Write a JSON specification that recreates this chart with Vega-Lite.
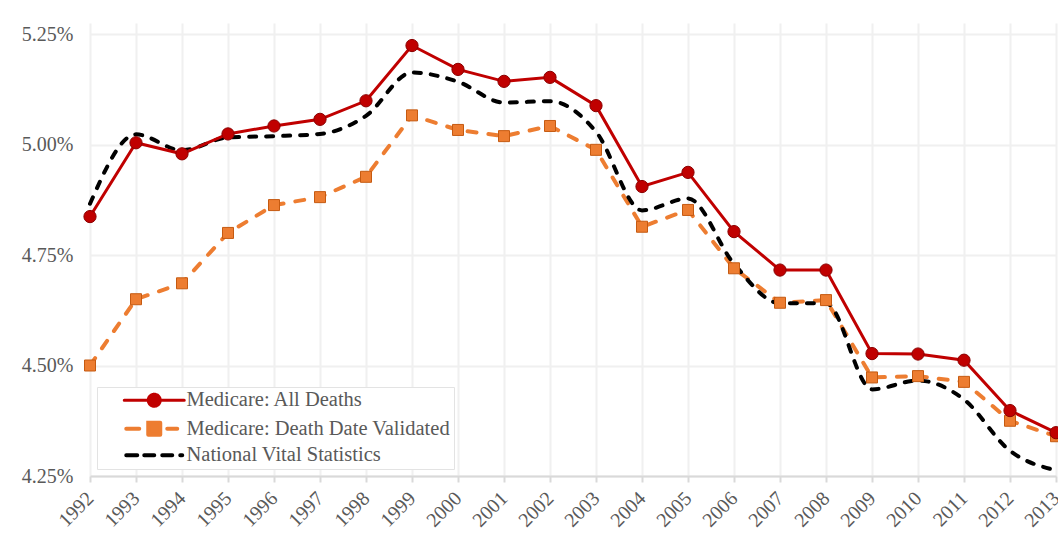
{
  "$schema": "https://vega.github.io/schema/vega-lite/v6.json",
  "width": 966,
  "height": 453,
  "autosize": "none",
  "padding": {"left": 90, "top": 23, "right": 2, "bottom": 63},
  "background": "white",
  "config": {"view": {"stroke": null}, "font": "Liberation Serif"},
  "data": {
    "values": [
      {"year": 1992, "s": "Medicare: All Deaths", "v": 4.837},
      {"year": 1993, "s": "Medicare: All Deaths", "v": 5.004},
      {"year": 1994, "s": "Medicare: All Deaths", "v": 4.979},
      {"year": 1995, "s": "Medicare: All Deaths", "v": 5.024},
      {"year": 1996, "s": "Medicare: All Deaths", "v": 5.042},
      {"year": 1997, "s": "Medicare: All Deaths", "v": 5.057},
      {"year": 1998, "s": "Medicare: All Deaths", "v": 5.099},
      {"year": 1999, "s": "Medicare: All Deaths", "v": 5.224},
      {"year": 2000, "s": "Medicare: All Deaths", "v": 5.170},
      {"year": 2001, "s": "Medicare: All Deaths", "v": 5.143},
      {"year": 2002, "s": "Medicare: All Deaths", "v": 5.152},
      {"year": 2003, "s": "Medicare: All Deaths", "v": 5.088},
      {"year": 2004, "s": "Medicare: All Deaths", "v": 4.905},
      {"year": 2005, "s": "Medicare: All Deaths", "v": 4.937},
      {"year": 2006, "s": "Medicare: All Deaths", "v": 4.803},
      {"year": 2007, "s": "Medicare: All Deaths", "v": 4.716},
      {"year": 2008, "s": "Medicare: All Deaths", "v": 4.716},
      {"year": 2009, "s": "Medicare: All Deaths", "v": 4.527},
      {"year": 2010, "s": "Medicare: All Deaths", "v": 4.526},
      {"year": 2011, "s": "Medicare: All Deaths", "v": 4.512},
      {"year": 2012, "s": "Medicare: All Deaths", "v": 4.398},
      {"year": 2013, "s": "Medicare: All Deaths", "v": 4.348},
      {"year": 1992, "s": "Medicare: Death Date Validated", "v": 4.500},
      {"year": 1993, "s": "Medicare: Death Date Validated", "v": 4.650},
      {"year": 1994, "s": "Medicare: Death Date Validated", "v": 4.686},
      {"year": 1995, "s": "Medicare: Death Date Validated", "v": 4.800},
      {"year": 1996, "s": "Medicare: Death Date Validated", "v": 4.863},
      {"year": 1997, "s": "Medicare: Death Date Validated", "v": 4.881},
      {"year": 1998, "s": "Medicare: Death Date Validated", "v": 4.927},
      {"year": 1999, "s": "Medicare: Death Date Validated", "v": 5.066},
      {"year": 2000, "s": "Medicare: Death Date Validated", "v": 5.033},
      {"year": 2001, "s": "Medicare: Death Date Validated", "v": 5.019},
      {"year": 2002, "s": "Medicare: Death Date Validated", "v": 5.042},
      {"year": 2003, "s": "Medicare: Death Date Validated", "v": 4.988},
      {"year": 2004, "s": "Medicare: Death Date Validated", "v": 4.814},
      {"year": 2005, "s": "Medicare: Death Date Validated", "v": 4.852},
      {"year": 2006, "s": "Medicare: Death Date Validated", "v": 4.720},
      {"year": 2007, "s": "Medicare: Death Date Validated", "v": 4.642},
      {"year": 2008, "s": "Medicare: Death Date Validated", "v": 4.648},
      {"year": 2009, "s": "Medicare: Death Date Validated", "v": 4.473},
      {"year": 2010, "s": "Medicare: Death Date Validated", "v": 4.476},
      {"year": 2011, "s": "Medicare: Death Date Validated", "v": 4.463},
      {"year": 2012, "s": "Medicare: Death Date Validated", "v": 4.375},
      {"year": 2013, "s": "Medicare: Death Date Validated", "v": 4.340},
      {"year": 1992, "s": "National Vital Statistics", "v": 4.866},
      {"year": 1993, "s": "National Vital Statistics", "v": 5.023},
      {"year": 1994, "s": "National Vital Statistics", "v": 4.987},
      {"year": 1995, "s": "National Vital Statistics", "v": 5.016},
      {"year": 1996, "s": "National Vital Statistics", "v": 5.019},
      {"year": 1997, "s": "National Vital Statistics", "v": 5.024},
      {"year": 1998, "s": "National Vital Statistics", "v": 5.065},
      {"year": 1999, "s": "National Vital Statistics", "v": 5.163},
      {"year": 2000, "s": "National Vital Statistics", "v": 5.142},
      {"year": 2001, "s": "National Vital Statistics", "v": 5.095},
      {"year": 2002, "s": "National Vital Statistics", "v": 5.098},
      {"year": 2003, "s": "National Vital Statistics", "v": 5.029},
      {"year": 2004, "s": "National Vital Statistics", "v": 4.851},
      {"year": 2005, "s": "National Vital Statistics", "v": 4.878},
      {"year": 2006, "s": "National Vital Statistics", "v": 4.730},
      {"year": 2007, "s": "National Vital Statistics", "v": 4.641},
      {"year": 2008, "s": "National Vital Statistics", "v": 4.641},
      {"year": 2009, "s": "National Vital Statistics", "v": 4.446},
      {"year": 2010, "s": "National Vital Statistics", "v": 4.466},
      {"year": 2011, "s": "National Vital Statistics", "v": 4.423},
      {"year": 2012, "s": "National Vital Statistics", "v": 4.307},
      {"year": 2013, "s": "National Vital Statistics", "v": 4.263}
    ]
  },
  "encoding": {
    "x": {
      "field": "year", "type": "quantitative",
      "scale": {"domain": [1992, 2013], "nice": false, "zero": false},
      "axis": {
        "values": [1992,1993,1994,1995,1996,1997,1998,1999,2000,2001,2002,2003,2004,2005,2006,2007,2008,2009,2010,2011,2012,2013],
        "format": "d", "title": null,
        "labelAngle": -45, "labelAlign": "right", "labelBaseline": "middle",
        "labelFont": "Liberation Serif", "labelFontSize": 20, "labelColor": "#595959",
        "labelPadding": 13, "labelOverlap": false, "labelFlush": false, "labelBound": false,
        "domainColor": "#d9d9d9", "domainWidth": 2,
        "tickColor": "#d9d9d9", "tickWidth": 2, "tickSize": 6,
        "gridColor": "#f0f0f0", "gridWidth": 2
      }
    },
    "y": {
      "field": "v", "type": "quantitative",
      "scale": {"domain": [4.25, 5.275], "nice": false, "zero": false},
      "axis": {
        "values": [4.25, 4.5, 4.75, 5, 5.25],
        "labelExpr": "format(datum.value, '.2f') + '%'",
        "title": null, "domain": false, "ticks": false, "labelPadding": 17,
        "labelFont": "Liberation Serif", "labelFontSize": 20, "labelColor": "#595959",
        "gridColor": "#f0f0f0", "gridWidth": 2
      }
    }
  },
  "layer": [
    {
      "transform": [{"filter": "datum.s === 'Medicare: Death Date Validated'"}],
      "mark": {"type": "line", "strokeWidth": 4, "strokeDash": [9, 12], "strokeCap": "round"},
      "encoding": {
        "color": {
          "field": "s", "type": "nominal",
          "scale": {"domain": ["Medicare: All Deaths", "Medicare: Death Date Validated", "National Vital Statistics"], "range": ["#c00000", "#ed7d31", "#000000"]},
          "legend": {
            "title": null, "orient": "bottom-left", "offset": 7, "padding": 3,
            "fillColor": "white", "strokeColor": "#e3e3e3",
            "labelFont": "Liberation Serif", "labelFontSize": 20.5, "labelColor": "#595959", "labelLimit": 400,
            "labelExpr": "datum.label + '\u00a0\u00a0'",
            "symbolSize": 256, "symbolOffset": 44, "labelOffset": 22, "rowPadding": 1.5,
            "encode": {
              "symbols": {
                "update": {
                  "shape": {"signal": "datum.value === 'Medicare: All Deaths' ? 'M-3.75,0L3.75,0M0.75,0A0.75,0.75,0,1,1,-0.75,0A0.75,0.75,0,1,1,0.75,0Z' : datum.value === 'Medicare: Death Date Validated' ? 'M-3.5,0L-1.875,0M1.625,0L2.875,0M-0.75,-0.75L0.75,-0.75L0.75,0.75L-0.75,0.75Z' : 'M-3.5,0L-2.125,0M-1.25,0L0,0M1,0L2.25,0M3.25,0L3.5,0'"},
                  "size": {"value": 256},
                  "strokeWidth": {"signal": "datum.value === 'Medicare: All Deaths' ? 3 : 4"},
                  "fill": {"signal": "scale('color', datum.value)"},
                  "stroke": {"signal": "scale('color', datum.value)"},
                  "strokeDash": {"value": [1, 0]},
                  "strokeCap": {"value": "round"},
                  "opacity": {"value": 1}
                }
              }
            }
          }
        }
      }
    },
    {
      "transform": [{"filter": "datum.s === 'National Vital Statistics'"}],
      "mark": {"type": "line", "strokeWidth": 4, "strokeDash": [7, 10], "strokeCap": "round", "interpolate": "monotone"},
      "encoding": {
        "color": {"field": "s", "type": "nominal", "scale": {"domain": ["Medicare: All Deaths", "Medicare: Death Date Validated", "National Vital Statistics"], "range": ["#c00000", "#ed7d31", "#000000"]}}
      }
    },
    {
      "transform": [{"filter": "datum.s === 'Medicare: All Deaths'"}],
      "mark": {"type": "line", "strokeWidth": 3},
      "encoding": {
        "color": {"field": "s", "type": "nominal", "scale": {"domain": ["Medicare: All Deaths", "Medicare: Death Date Validated", "National Vital Statistics"], "range": ["#c00000", "#ed7d31", "#000000"]}}
      }
    },
    {
      "transform": [{"filter": "datum.s === 'Medicare: Death Date Validated'"}],
      "mark": {"type": "point", "shape": "square", "filled": true, "size": 121, "fill": "#ed7d31", "stroke": "#c55a11", "strokeWidth": 1, "opacity": 1}
    },
    {
      "transform": [{"filter": "datum.s === 'Medicare: All Deaths'"}],
      "mark": {"type": "point", "shape": "circle", "filled": true, "size": 150, "fill": "#c00000", "stroke": "#8b0000", "strokeWidth": 1, "opacity": 1}
    }
  ]
}
